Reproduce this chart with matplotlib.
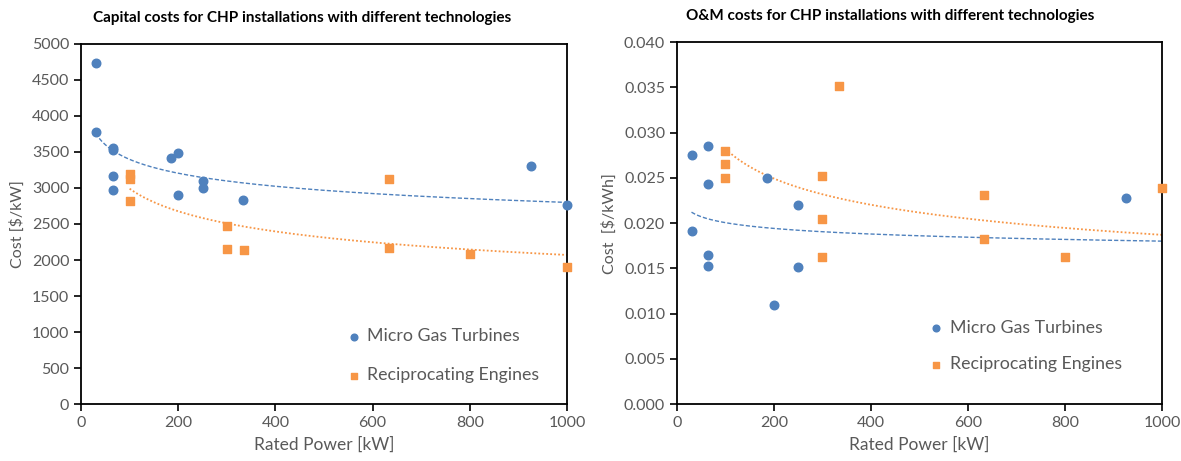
import numpy as np
import matplotlib
matplotlib.use("Agg")
import matplotlib.pyplot as plt

plt.rcParams['font.family'] = ['Lato', 'DejaVu Sans']

# capital costs [$/kW]
mgt_cap_x = [30, 30, 65, 65, 65, 65, 185, 200, 200, 250, 250, 333, 925, 1000]
mgt_cap_y = [4740, 3780, 3550, 3530, 3170, 2970, 3410, 3480, 2900, 3100, 3000, 2840, 3300, 2760]
rec_cap_x = [100, 100, 100, 300, 300, 335, 633, 633, 800, 1000]
rec_cap_y = [3190, 3130, 2820, 2470, 2150, 2140, 3120, 2170, 2090, 1900]

# O&M costs [$/kWh]
mgt_om_x = [30, 30, 65, 65, 65, 65, 185, 200, 250, 250, 925]
mgt_om_y = [0.0275, 0.0191, 0.0285, 0.0243, 0.0165, 0.0153, 0.0250, 0.0109, 0.0220, 0.0152, 0.0228]
rec_om_x = [100, 100, 100, 300, 300, 300, 335, 633, 633, 800, 1000]
rec_om_y = [0.0280, 0.0265, 0.0250, 0.0252, 0.0204, 0.0163, 0.0351, 0.0231, 0.0182, 0.0163, 0.0239]

# power trendlines y = a * x**b (a, b, x from, x to)
mgt_cap_trend = [5002, -0.0840, 30, 1000]
rec_cap_trend = [6239, -0.1597, 100, 1000]
mgt_om_trend = [0.02485, -0.04666, 30, 1000]
rec_om_trend = [0.06413, -0.1784, 100, 1000]

blue = '#4F81BD'
orange = '#F79646'
grey = '#595959'


def trend(ax, t, color, ls, lw):
    a, b, x0, x1 = t
    xs = np.linspace(x0, x1, 300)
    ax.plot(xs, a * xs ** b, color=color, ls=ls, lw=lw, zorder=2)


def panel(ax, mx, my, rx, ry, mt, rt, ylim, ystep, yfmt, ylabel, leg_xy, leg_sp):
    ax.scatter(mx, my, s=38, color=blue, marker='o', label='Micro Gas Turbines', zorder=3, clip_on=False)
    ax.scatter(rx, ry, s=38, color=orange, marker='s', label='Reciprocating Engines', zorder=3, clip_on=False)
    trend(ax, mt, blue, (0, (3, 1.5)), 1.0)
    trend(ax, rt, orange, (0, (1, 1.2)), 1.3)
    ax.set_xlim(0, 1000)
    ax.set_ylim(*ylim)
    ax.set_xticks(np.arange(0, 1001, 200))
    ax.set_yticks(np.arange(ylim[0], ylim[1] + ystep / 2, ystep))
    ax.yaxis.set_major_formatter(matplotlib.ticker.FormatStrFormatter(yfmt))
    ax.tick_params(colors='black', labelcolor=grey, labelsize=11.5, length=5, width=1.2, direction='out')
    for s in ax.spines.values():
        s.set_color('black')
        s.set_linewidth(1.3)
    ax.set_xlabel('Rated Power [kW]', color=grey, fontsize=12.5, labelpad=5)
    ax.set_ylabel(ylabel, color=grey, fontsize=11.5, labelpad=5)
    ax.legend(loc='upper left', bbox_to_anchor=leg_xy, frameon=False, fontsize=12.75, borderpad=0,
              borderaxespad=0, labelcolor=grey, handlelength=0.6, handletextpad=0.45,
              labelspacing=leg_sp, markerscale=0.78)


fig = plt.figure(figsize=(11.81, 4.61), dpi=100)
ax1 = fig.add_axes([0.0686, 0.1236, 0.4115, 0.781])
ax2 = fig.add_axes([0.5732, 0.1236, 0.4107, 0.785])

panel(ax1, mgt_cap_x, mgt_cap_y, rec_cap_x, rec_cap_y, mgt_cap_trend, rec_cap_trend,
      (0, 5000), 500, '%d', 'Cost [$/kW]', (0.551, 0.21), 1.3)
panel(ax2, mgt_om_x, mgt_om_y, rec_om_x, rec_om_y, mgt_om_trend, rec_om_trend,
      (0, 0.04), 0.005, '%.3f', 'Cost  [$/kWh]', (0.524, 0.232), 1.15)

fig.text(0.256, 0.961, 'Capital costs for CHP installations with different technologies',
         fontsize=11, fontweight='bold', ha='center', va='center')
fig.text(0.7536, 0.965, 'O&M costs for CHP installations with different technologies',
         fontsize=11, fontweight='bold', ha='center', va='center')

fig.savefig('out.png', dpi=100)
